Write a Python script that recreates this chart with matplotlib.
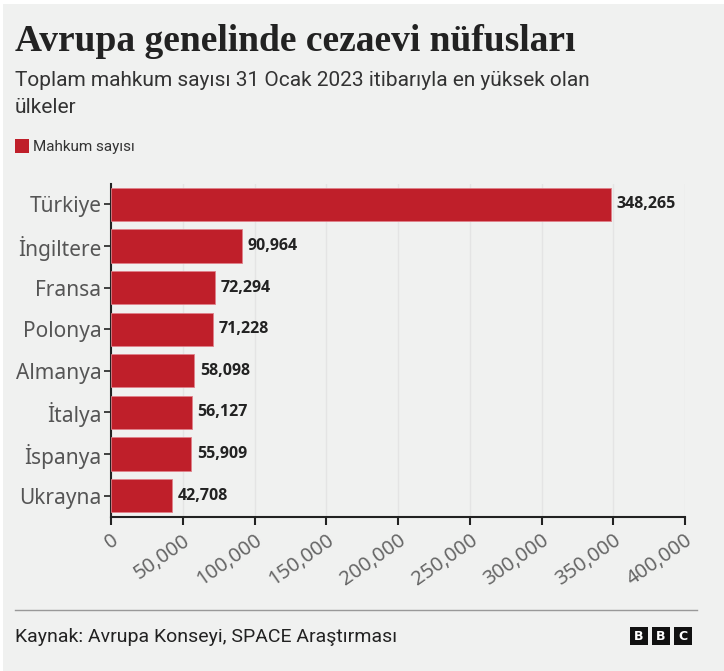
import matplotlib
matplotlib.use("Agg")
import matplotlib.pyplot as plt
from matplotlib.patches import Rectangle
from matplotlib.ticker import FuncFormatter

countries = ["Türkiye", "İngiltere", "Fransa", "Polonya", "Almanya", "İtalya", "İspanya", "Ukrayna"]
prisoners = [348265, 90964, 72294, 71228, 58098, 56127, 55909, 42708]
xticks = [0, 50000, 100000, 150000, 200000, 250000, 300000, 350000, 400000]

BG = "#f0f1f0"
RED = "#bf1f2a"
W, H = 724, 671

fig = plt.figure(figsize=(W / 100, H / 100), dpi=100, facecolor="white")

def fx(px):
    return px / W

def fy(py):
    return 1 - py / H

fig.patches.append(Rectangle((fx(3), 0), 1 - fx(3), 1 - 4 / H, transform=fig.transFigure,
                             facecolor=BG, edgecolor="none", zorder=-10))

fig.text(fx(15), fy(51), "Avrupa genelinde cezaevi nüfusları", fontsize=27,
         fontweight="bold", family="Liberation Serif", color="#222222", va="baseline")
fig.text(fx(15), fy(86), "Toplam mahkum sayısı 31 Ocak 2023 itibarıyla en yüksek olan",
         fontsize=15, family="Roboto", color="#333333", va="baseline")
fig.text(fx(15), fy(113), "ülkeler", fontsize=15, family="Roboto",
         color="#333333", va="baseline")
fig.patches.append(Rectangle((fx(15), fy(153)), fx(14), 14 / H, transform=fig.transFigure,
                             facecolor=RED, edgecolor="none"))
fig.text(fx(33), fy(151), "Mahkum sayısı", fontsize=11, family="Roboto",
         color="#333333", va="baseline")

ax = fig.add_axes([fx(111), fy(516.5), fx(685 - 111), (516.5 - 183.5) / H])
ax.set_facecolor(BG)
y = list(range(len(countries)))
ax.barh(y, prisoners, height=0.8, color=RED, edgecolor="#e0808a", linewidth=0.6, zorder=3)
ax.set_ylim(len(countries) - 0.5, -0.5)
ax.set_xlim(0, 400000)
ax.set_yticks(y)
ax.set_yticklabels(countries, fontsize=15, family="Noto Sans", color="#555555")
ax.set_xticks(xticks)
ax.xaxis.set_major_formatter(FuncFormatter(lambda v, p: f"{int(v):,}"))
for lab in ax.get_xticklabels():
    lab.set_rotation(35)
    lab.set_ha("right")
    lab.set_rotation_mode("anchor")
    lab.set_fontsize(14.5)
    lab.set_family("Noto Sans")
    lab.set_color("#666666")
ax.tick_params(axis="x", length=6, width=1.5, color="#222222", pad=4)
ax.tick_params(axis="y", length=5, width=1.2, color="#222222", pad=2)
ax.grid(axis="x", color="#e4e4e4", linewidth=1, zorder=0)
for s in ["top", "right"]:
    ax.spines[s].set_visible(False)
ax.spines["left"].set_color("#222222")
ax.spines["left"].set_linewidth(1.5)
ax.spines["bottom"].set_color("#222222")
ax.spines["bottom"].set_linewidth(1.5)

for yi, v in zip(y, prisoners):
    ax.text(v + 4000, yi, f"{v:,}", va="center", ha="left", fontsize=11.5,
            fontweight="bold", family="Open Sans", color="#222222", zorder=4)

fig.add_artist(plt.Line2D([fx(15), fx(697)], [fy(610), fy(610)], transform=fig.transFigure,
                          color="#999999", linewidth=1))
fig.text(fx(15), fy(642), "Kaynak: Avrupa Konseyi, SPACE Araştırması", fontsize=14,
         family="Roboto", color="#222222", va="baseline")
for i, ch in enumerate("BBC"):
    x0 = 630 + i * 22
    fig.patches.append(Rectangle((fx(x0), fy(645)), fx(18), 18 / H, transform=fig.transFigure,
                                 facecolor="#111111", edgecolor="none"))
    fig.text(fx(x0 + 9), fy(636), ch, fontsize=9, fontweight="bold", color="white",
             ha="center", va="center", family="DejaVu Sans")

fig.savefig("out.png", dpi=100, facecolor="white")
